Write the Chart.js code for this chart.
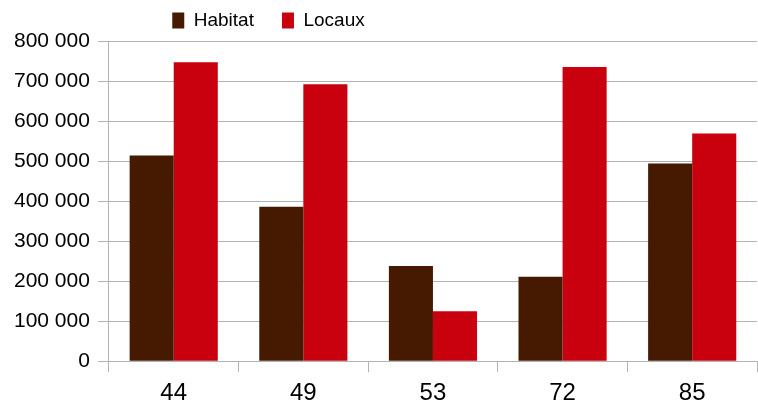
<!DOCTYPE html>
<html>
<head>
<meta charset="utf-8">
<script src="https://cdn.jsdelivr.net/npm/chart.js@4"></script>
<style>
  html, body { margin: 0; padding: 0; background: #fff; }
  #wrap { width: 758px; height: 405px; }
</style>
</head>
<body>
<div id="wrap"><canvas id="chart" width="758" height="405"></canvas></div>
<script>
const departements = ['44', '49', '53', '72', '85'];
const habitat = [514000, 386000, 238000, 211000, 494000];
const locaux = [747000, 692000, 125000, 735000, 569000];
const yTicks = [0, 100000, 200000, 300000, 400000, 500000, 600000, 700000, 800000];

function formatFr(v) {
    return String(v).replace(/\B(?=(\d{3})+(?!\d))/g, ' ');
}

// legend sits left of centre and higher than chart.js would put it
const legendPlace = {
    id: 'legendPlace',
    beforeUpdate(chart) {
        const lg = chart.legend;
        if (lg && !lg._patched) {
            const orig = lg.fit;
            lg.fit = function () { orig.call(this); this.height = 41; };
            lg._patched = true;
        }
    },
    afterLayout(chart) {
        const lg = chart.legend;
        lg.left = 0;
        lg.right = 537;
        lg.top = -17;
    }
};

const ctx = document.getElementById('chart').getContext('2d');
const chart = new Chart(ctx, {
    type: 'bar',
    data: {
        labels: departements,
        datasets: [
            {
                label: 'Habitat',
                data: habitat,
                backgroundColor: '#461a00', // dark brown
                categoryPercentage: 0.68,
                barPercentage: 1
            },
            {
                label: 'Locaux',
                data: locaux,
                backgroundColor: '#c9000e', // red
                categoryPercentage: 0.68,
                barPercentage: 1
            }
        ]
    },
    options: {
        responsive: false,
        animation: false,
        layout: { padding: { top: 0, right: 1, left: 6, bottom: -10 } },
        plugins: {
            legend: {
                position: 'top',
                labels: {
                    color: '#000',
                    font: { family: 'Liberation Sans', size: 19 },
                    boxWidth: 12,
                    boxHeight: 16,
                    padding: 28
                }
            },
            tooltip: { enabled: false }
        },
        scales: {
            x: {
                offset: true,
                grid: {
                    offset: true,
                    drawOnChartArea: false,
                    tickLength: 11,
                    color: '#b3b3b3'
                },
                border: { color: '#b3b3b3' },
                ticks: {
                    color: '#000',
                    font: { family: 'Liberation Sans', size: 24 },
                    padding: 7
                }
            },
            y: {
                min: 0,
                max: 800000,
                afterBuildTicks: axis => { axis.ticks = yTicks.map(v => ({ value: v })); },
                grid: {
                    color: '#b3b3b3',
                    tickLength: 11
                },
                border: { color: '#b3b3b3' },
                ticks: {
                    color: '#000',
                    font: { family: 'Liberation Sans', size: 21 },
                    padding: 8,
                    callback: v => formatFr(v)
                }
            }
        }
    },
    plugins: [legendPlace]
});
</script>
</body>
</html>
